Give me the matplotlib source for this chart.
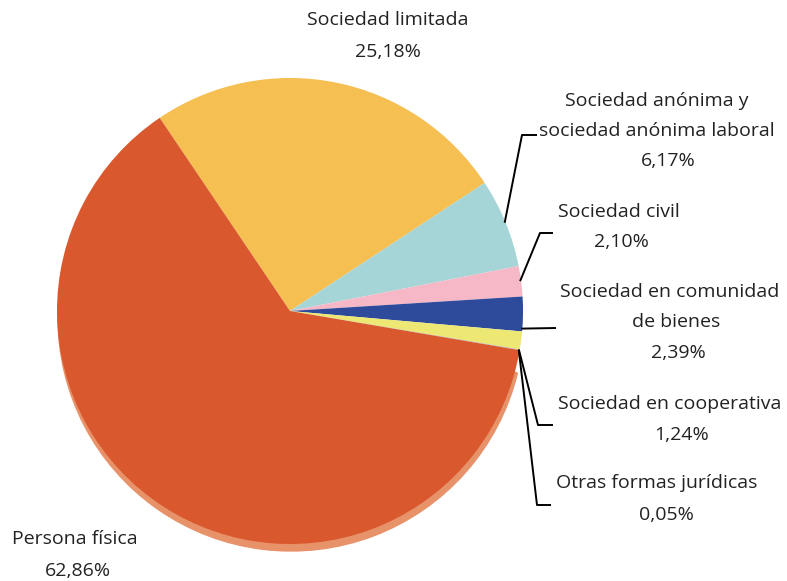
import numpy as np
import matplotlib.pyplot as plt
from matplotlib.patches import Wedge

# data
labels = ['Sociedad limitada', 'Sociedad anónima y\nsociedad anónima laboral',
          'Sociedad civil', 'Sociedad en comunidad\nde bienes',
          'Sociedad en cooperativa', 'Otras formas jurídicas', 'Persona física']
shares = [25.18, 6.17, 2.10, 2.39, 1.24, 0.05, 62.86]
pct_text = ['25,18%', '6,17%', '2,10%', '2,39%', '1,24%', '0,05%', '62,86%']
colors = ['#F5BF52', '#A5D5D6', '#F6B8C6', '#2E4A9B', '#EDE874', '#B0B0B0', '#D9582E']

plt.rcParams['font.family'] = ['Open Sans', 'DejaVu Sans']

W, H = 787, 581
fig = plt.figure(figsize=(W / 100, H / 100), dpi=100)
ax = fig.add_axes([0, 0, 1, 1])

cx, cy, r = 290, H - 311, 233
start = 124

# shadow behind persona fisica (shifted copy of the wedge)
angles = start - np.cumsum([0] + shares) * 3.6
ax.add_patch(Wedge((cx + 1, cy - 7), r, angles[-1], angles[-2] - 4,
                   color='#E8926A', zorder=1))

wedges, _ = ax.pie(shares, colors=colors, startangle=start, counterclock=False,
                   center=(cx, cy), radius=r, frame=True,
                   wedgeprops=dict(linewidth=0, zorder=2))
ax.set_xlim(0, W)
ax.set_ylim(0, H)
ax.axis('off')

def at(theta, rad=r):
    t = np.deg2rad(theta)
    return cx + rad * np.cos(t), cy + rad * np.sin(t)

fs = 14
tk = dict(va='center', fontsize=fs, color='#222222')
# labels without leader
ax.text(388, H - 20, labels[0], ha='center', **tk)
ax.text(388, H - 52, pct_text[0], ha='center', **tk)
ax.text(75, H - 539, labels[6], ha='center', **tk)
ax.text(78, H - 571, pct_text[6], ha='center', **tk)

# (index, fraction in wedge, elbow, end)
leaders = [
    (1, 0.5, (522, 135), (537, 135)),
    (2, 0.5, (540, 233), (553, 233)),
    (3, 0.92, (556, 328), (556, 328)),
    (4, 1.0, (538, 425), (553, 425)),
    (5, 0.5, (537, 505), (551, 505)),
]
for i, frac, elbow, end in leaders:
    theta = angles[i] + (angles[i + 1] - angles[i]) * frac
    x0, y0 = at(theta)
    ax.plot([x0 - 1, elbow[0], end[0]], [y0, H - elbow[1], H - end[1]],
            color='black', lw=1.4, zorder=3, solid_capstyle='butt')

ax.text(657, H - 101, 'Sociedad anónima y', ha='center', **tk)
ax.text(657, H - 131, 'sociedad anónima laboral', ha='center', **tk)
ax.text(668, H - 161, pct_text[1], ha='center', **tk)

ax.text(558, H - 212, labels[2], ha='left', **tk)
ax.text(621, H - 242, pct_text[2], ha='center', **tk)

ax.text(670, H - 292, 'Sociedad en comunidad', ha='center', **tk)
ax.text(676, H - 322, 'de bienes', ha='center', **tk)
ax.text(678, H - 353, pct_text[3], ha='center', **tk)

ax.text(558, H - 404, labels[4], ha='left', **tk)
ax.text(682, H - 435, pct_text[4], ha='center', **tk)

ax.text(556, H - 483, labels[5], ha='left', **tk)
ax.text(666, H - 515, pct_text[5], ha='center', **tk)

fig.savefig('out.png', dpi=100)
